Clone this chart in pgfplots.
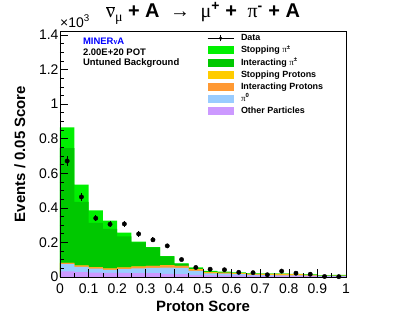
\documentclass[border=0pt]{standalone}
\usepackage{fontspec}
\setmainfont{Liberation Sans}
\newfontfamily\symb{Liberation Serif}
\usepackage{pgfplots}
\pgfplotsset{compat=1.18}
\usepackage{pgfplotstable}

\definecolor{stoppi}{RGB}{0,240,0}
\definecolor{intpi}{RGB}{0,200,0}
\definecolor{stopp}{RGB}{255,204,0}
\definecolor{intp}{RGB}{255,153,51}
\definecolor{pizero}{RGB}{153,204,255}
\definecolor{other}{RGB}{204,153,255}

% cumulative tops of the stack, x10^3 events, bin left edges
\pgfplotstableread{
x    P     B     O     Y     D     L
0.00 0.033 0.075 0.081 0.082 0.746 0.866
0.05 0.028 0.058 0.066 0.067 0.434 0.535
0.10 0.025 0.048 0.056 0.057 0.313 0.385
0.15 0.024 0.041 0.049 0.050 0.278 0.326
0.20 0.024 0.046 0.054 0.055 0.235 0.256
0.25 0.023 0.050 0.060 0.061 0.200 0.204
0.30 0.022 0.053 0.064 0.065 0.171 0.173
0.35 0.018 0.054 0.067 0.068 0.119 0.121
0.40 0.016 0.053 0.064 0.065 0.077 0.079
0.45 0.013 0.036 0.043 0.045 0.052 0.055
0.50 0.011 0.021 0.026 0.028 0.031 0.035
0.55 0.010 0.019 0.024 0.026 0.028 0.031
0.60 0.009 0.016 0.020 0.022 0.024 0.027
0.65 0.008 0.012 0.015 0.018 0.019 0.021
0.70 0.007 0.011 0.014 0.018 0.019 0.020
0.75 0.007 0.010 0.014 0.018 0.019 0.020
0.80 0.006 0.009 0.012 0.016 0.017 0.018
0.85 0.005 0.008 0.010 0.013 0.014 0.015
0.90 0.003 0.005 0.006 0.007 0.008 0.009
0.95 0.004 0.006 0.007 0.008 0.010 0.013
1.00 0.004 0.006 0.007 0.008 0.010 0.013
}\mcstack

\pgfplotstableread{
x     y     e
0.025 0.671 0.027
0.075 0.463 0.022
0.125 0.340 0.018
0.175 0.305 0.017
0.225 0.307 0.017
0.275 0.249 0.016
0.325 0.215 0.015
0.375 0.180 0.013
0.425 0.101 0.010
0.475 0.055 0.007
0.525 0.045 0.007
0.575 0.042 0.006
0.625 0.027 0.005
0.675 0.025 0.005
0.725 0.013 0.004
0.775 0.034 0.006
0.825 0.022 0.005
0.875 0.016 0.004
0.925 0.003 0.002
0.975 0.002 0.001
}\datapts

\pgfplotsset{
  histfill/.style={draw=none, fill=#1, const plot mark left,
    legend image code/.code={\fill[#1] (0bp,-4bp) rectangle (26bp,4bp);}},
}
\newcommand{\gr}[1]{{\symb\mdseries #1}}

\begin{document}
\begin{tikzpicture}
\useasboundingbox (-60bp,-51bp) rectangle (347bp,277bp);
\begin{axis}[
  scale only axis, width=286bp, height=246bp,
  xmin=0, xmax=1, ymin=0, ymax=1.423,
  clip mode=individual,
  axis on top,
  axis line style={line width=0.8bp},
  tick align=inside, xtick pos=left, ytick pos=left,
  xtick={0,0.1,0.2,0.3,0.4,0.5,0.6,0.7,0.8,0.9,1},
  ytick={0,0.2,0.4,0.6,0.8,1,1.2,1.4},
  minor x tick num=1, minor y tick num=3,
  major tick length=8bp, minor tick length=4bp,
  tick style={black, line width=0.6bp},
  scaled ticks=false,
  /pgf/number format/assume math mode=true,
  ticklabel style={font=\fontsize{14}{16}\selectfont},
  xticklabel style={yshift=-3bp},
  yticklabel style={xshift=2bp},
  xlabel={Proton Score},
  ylabel={Events / 0.05 Score},
  label style={font=\fontsize{15}{17}\selectfont\bfseries},
  xlabel style={at={(axis description cs:0.5,-0.118)}, anchor=center},
  ylabel style={at={(axis description cs:-0.14,0.5)}, anchor=center},
  legend style={draw=none, fill=none, at={(axis description cs:0.514,0.988)},
    anchor=north west, font=\fontsize{9}{10}\selectfont\bfseries,
    inner sep=0pt, row sep=3.9bp, column sep=7bp,
    nodes={inner sep=0pt, text height=6.5bp, text depth=1.8bp}},
  legend cell align=left,
]
\addlegendimage{legend image code/.code={
  \draw[black, line width=0.8bp] (0bp,0bp) -- (26bp,0bp);
  \draw[black, line width=0.8bp] (13bp,-3bp) -- (13bp,3bp);
  \fill[black] (13bp,0bp) circle (1.5bp);}}
\addlegendentry{Data}
\addplot[histfill=stoppi] table[x=x, y=L] {\mcstack} \closedcycle;
\addlegendentry{Stopping \gr{π}\textsuperscript{±}}
\addplot[histfill=intpi] table[x=x, y=D] {\mcstack} \closedcycle;
\addlegendentry{Interacting \gr{π}\textsuperscript{±}}
\addplot[histfill=stopp] table[x=x, y=Y] {\mcstack} \closedcycle;
\addlegendentry{Stopping Protons}
\addplot[histfill=intp] table[x=x, y=O] {\mcstack} \closedcycle;
\addlegendentry{Interacting Protons}
\addplot[histfill=pizero] table[x=x, y=B] {\mcstack} \closedcycle;
\addlegendentry{\gr{π}\textsuperscript{0}}
\addplot[histfill=other] table[x=x, y=P] {\mcstack} \closedcycle;
\addlegendentry{Other Particles}
\addplot[forget plot, black, only marks, mark=*, mark size=2.2bp,
  error bars/.cd, y dir=both, y explicit, error mark=none,
  error bar style={line width=1bp}]
  table[x=x, y=y, y error=e] {\datapts};

\node[anchor=base west, font=\fontsize{9.5}{11}\selectfont\bfseries, text=blue, inner sep=0pt]
  at (axis description cs:0.080,0.946) {MINER{\symb\fontsize{8.5}{10}\selectfont ν}A};
\node[anchor=base west, font=\fontsize{9.5}{11}\selectfont\bfseries, inner sep=0pt]
  at (axis description cs:0.080,0.902) {2.00E+20 POT};
\node[anchor=base west, font=\fontsize{9.5}{11}\selectfont\bfseries, inner sep=0pt]
  at (axis description cs:0.080,0.859) {Untuned Background};
\node[anchor=base west, font=\fontsize{14}{16}\selectfont, inner sep=0pt]
  at (axis description cs:0,1.016) {×10\textsuperscript{3}};
\node[anchor=center, font=\fontsize{20}{24}\selectfont\bfseries, inner sep=0pt]
  at (axis description cs:0.5,1.073)
  {\gr{$\overline{\hbox{ν}}$\raisebox{-0.4ex}{\fontsize{14}{16}\selectfont μ}} + A \gr{\ →\ } \gr{μ}\textsuperscript{+} + \gr{\ π}\textsuperscript{-} + A};
\end{axis}
\end{tikzpicture}
\end{document}
